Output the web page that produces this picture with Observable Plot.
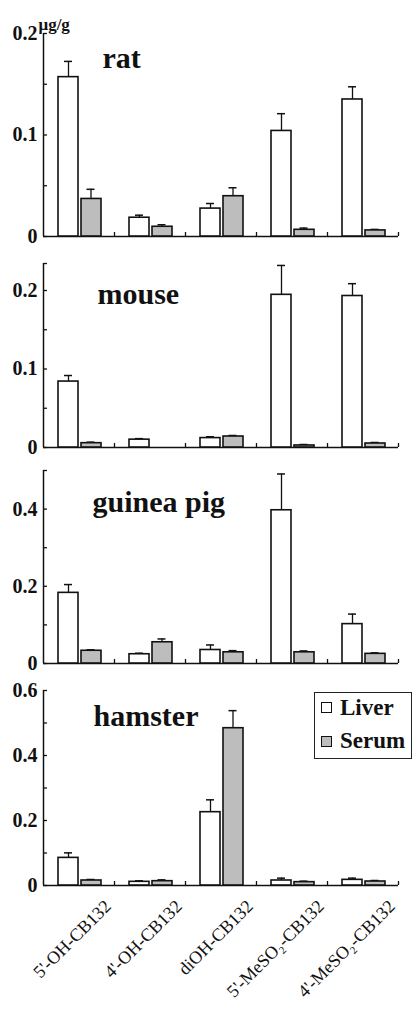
<!DOCTYPE html>
<html>
<head>
<meta charset="utf-8">
<script src="https://cdn.jsdelivr.net/npm/d3@7"></script>
<script src="https://cdn.jsdelivr.net/npm/@observablehq/plot@0.6"></script>
<style>
  html, body { margin: 0; padding: 0; background: #fff; }
  body { width: 413px; height: 1010px; overflow: hidden; position: relative; font-family: "Liberation Serif", "Times New Roman", "DejaVu Serif", serif; }
  .panel { position: absolute; left: 0; }
  .panel svg, .panel svg text { font-family: "Liberation Serif", "Times New Roman", "DejaVu Serif", serif !important; }
  #legend { position: absolute; left: 314px; top: 692px; width: 98px; height: 67px; border: 1.3px solid #222; box-sizing: border-box; font-weight: bold; font-size: 23px; color: #111; font-family: "Liberation Serif", "Times New Roman", serif; }
  #legend .sw { position: absolute; left: 6px; width: 11px; height: 11px; border: 1.8px solid #111; box-sizing: border-box; }
  #legend .lab { position: absolute; left: 25px; line-height: 1; }
</style>
</head>
<body>
<div id="chart"></div>
<div id="legend">
  <span class="sw" style="top:9px;background:#fff"></span><span class="lab" style="top:3px">Liver</span>
  <span class="sw" style="top:43px;background:#bdbdbd"></span><span class="lab" style="top:36px">Serum</span>
</div>
<script>
// ---- data ----
const categories = ["5'-OH-CB132", "4'-OH-CB132", "diOH-CB132", "5'-MeSO₂-CB132", "4'-MeSO₂-CB132"];
const seriesNames = ["Liver", "Serum"];

const ratLiver   = [0.157, 0.0185, 0.0275, 0.104, 0.135];
const ratLiverSE = [0.0155, 0.0025, 0.005, 0.017, 0.0125];
const ratSerum   = [0.037, 0.0096, 0.0397, 0.0066, 0.006];
const ratSerumSE = [0.0095, 0.002, 0.0083, 0.0017, 0.001];

const mouseLiver   = [0.084, 0.010, 0.012, 0.1945, 0.193];
const mouseLiverSE = [0.0077, 0.0013, 0.0017, 0.0374, 0.0157];
const mouseSerum   = [0.0055, 0, 0.014, 0.0026, 0.0051];
const mouseSerumSE = [0.0013, 0, 0.0013, 0.0012, 0.0013];

const gpLiver   = [0.183, 0.024, 0.035, 0.397, 0.102];
const gpLiverSE = [0.0215, 0.0026, 0.013, 0.094, 0.026];
const gpSerum   = [0.033, 0.055, 0.029, 0.029, 0.025];
const gpSerumSE = [0.0025, 0.0086, 0.0043, 0.0035, 0.0026];

const hamLiver   = [0.085, 0.0113, 0.2256, 0.0154, 0.0174];
const hamLiverSE = [0.0154, 0.0031, 0.038, 0.0072, 0.0052];
const hamSerum   = [0.0154, 0.0133, 0.484, 0.0103, 0.0123];
const hamSerumSE = [0.0031, 0.0041, 0.054, 0.003, 0.0031];

const speciesNames = ["rat", "mouse", "guinea pig", "hamster"];
const yMax = [0.2, 0.2344, 0.5, 0.6];
const yMajor = [[0, 0.1, 0.2], [0, 0.1, 0.2], [0, 0.2, 0.4], [0, 0.2, 0.4, 0.6]];
const yMinor = [[0.05, 0.15], [0.05, 0.15, 0.2344], [0.1, 0.3, 0.5], [0.1, 0.3, 0.5]];

// ---- layout (pixels) ----
const layout = [
  {top: 33,  base: 236, lx: 59, ly: 34},
  {top: 263, base: 447, lx: 54, ly: 40},
  {top: 470, base: 663, lx: 49, ly: 41},
  {top: 690, base: 885, lx: 50, ly: 35}
];
const values = [
  [ratLiver, ratLiverSE, ratSerum, ratSerumSE],
  [mouseLiver, mouseLiverSE, mouseSerum, mouseSerumSE],
  [gpLiver, gpLiverSE, gpSerum, gpSerumSE],
  [hamLiver, hamLiverSE, hamSerum, hamSerumSE]
];

const W = 413, ML = 43, MR = 15, MT = 30;
const ink = "#111";
const serif = "'Liberation Serif', 'Times New Roman', 'DejaVu Serif', serif";

values.forEach(([lv, lse, sv, sse], k) => {
  const L = layout[k];
  const last = k === values.length - 1;
  const MB = last ? 125 : 10;
  const liv = categories.map((c, i) => ({cat: c, type: seriesNames[0], v: lv[i], se: lse[i]}));
  const ser = categories.map((c, i) => ({cat: c, type: seriesNames[1], v: sv[i], se: sse[i]}));
  const livE = liv.filter(d => d.se > 0), serE = ser.filter(d => d.se > 0);
  const marks = [
    Plot.ruleY([0], {stroke: ink, strokeWidth: 1.5}),
    Plot.ruleX([categories[0]], {x: d => d, y1: 0, y2: yMax[k], dx: -35.5, stroke: ink, strokeWidth: 1.5}),
    Plot.axisX({ticks: categories, tickSize: -4, dx: 35.5, tickFormat: () => "", label: null, stroke: ink, strokeWidth: 1.3}),
    Plot.axisY({ticks: yMinor[k].concat(yMajor[k]), tickSize: -4, tickFormat: () => "", label: null, stroke: ink, strokeWidth: 1.3}),
    Plot.axisY({ticks: yMajor[k], tickSize: 0, tickPadding: 6, label: null, fontFamily: serif,
      tickFormat: d => d === 0 ? "0" : d.toFixed(1), fontSize: 20, fontWeight: "bold", fill: ink}),
    Plot.ruleX(livE, {x: "cat", y1: "v", y2: d => d.v + d.se, dx: -10.5, stroke: ink, strokeWidth: 1.3}),
    Plot.ruleX(serE, {x: "cat", y1: "v", y2: d => d.v + d.se, dx: 12, stroke: ink, strokeWidth: 1.3}),
    Plot.tickY(livE, {x: "cat", y: d => d.v + d.se, insetLeft: 21, insetRight: 42, stroke: ink, strokeWidth: 1.5}),
    Plot.tickY(serE, {x: "cat", y: d => d.v + d.se, insetLeft: 43.5, insetRight: 19.5, stroke: ink, strokeWidth: 1.5}),
    Plot.barY(liv, {x: "cat", y: "v", fill: "white", stroke: ink, strokeWidth: 1.6, insetLeft: 15, insetRight: 36}),
    Plot.barY(ser, {x: "cat", y: "v", fill: "#bdbdbd", stroke: ink, strokeWidth: 1.6, insetLeft: 38, insetRight: 13}),
    Plot.text([speciesNames[k]], {text: d => d, frameAnchor: "top-left", dx: L.lx, dy: L.ly, fontFamily: serif,
      textAnchor: "start", lineAnchor: "bottom", fontSize: 30, fontWeight: "bold", fill: ink})
  ];
  if (k === 0) {
    marks.push(Plot.text(["μg/g"], {text: d => d, frameAnchor: "top-left", dx: -5, dy: -4, fontFamily: serif,
      textAnchor: "start", lineAnchor: "bottom", fontSize: 17, fontWeight: "bold", fill: ink}));
  }
  if (last) {
    marks.push(Plot.text(categories, {x: d => d, text: d => d, frameAnchor: "bottom", rotate: -45, fontFamily: serif,
      textAnchor: "end", lineAnchor: "bottom", dx: 33, dy: 22, fontSize: 18, fill: ink}));
  }
  const svg = Plot.plot({
    width: W,
    height: MT + (L.base - L.top) + MB,
    marginLeft: ML, marginRight: MR, marginTop: MT, marginBottom: MB,
    style: {background: "transparent", fontFamily: serif, overflow: "visible"},
    x: {type: "band", domain: categories, padding: 0},
    y: {domain: [0, yMax[k]]},
    marks
  });
  const div = document.createElement("div");
  div.className = "panel";
  div.style.top = (L.top - MT) + "px";
  div.appendChild(svg);
  document.getElementById("chart").appendChild(div);
});
</script>
</body>
</html>
